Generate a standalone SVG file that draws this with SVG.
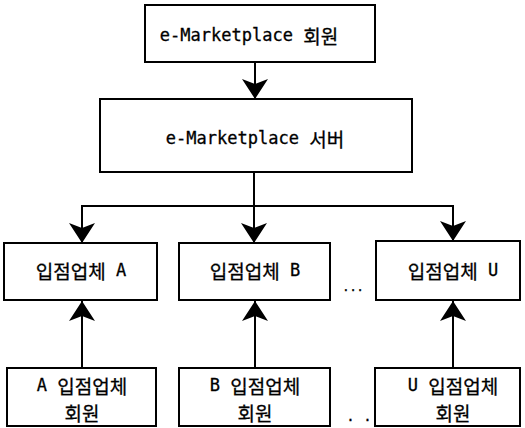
<svg xmlns="http://www.w3.org/2000/svg" width="525" height="428" viewBox="0 0 525 428">
<style>
.box{fill:#fff;stroke:#000;stroke-width:2}
.t{font-family:"DejaVu Sans Mono","Noto Sans CJK KR",monospace;font-size:17px;fill:#000;stroke:#000;stroke-width:0.3;text-anchor:middle;dominant-baseline:central}
.k{font-family:"Noto Sans CJK KR",sans-serif;font-size:19px}
.c{stroke:#000;stroke-width:2;fill:none}
</style>
<defs>
<marker id="ah" markerUnits="userSpaceOnUse" markerWidth="24" markerHeight="28" refX="20" refY="13" orient="auto">
<path d="M0,0 L20,13 L0,26 L5,13 Z" fill="#000"/>
</marker>
</defs>
<rect width="525" height="428" fill="#fff"/>
<g id="connectors">
<line class="c" x1="255" y1="62" x2="255" y2="99" marker-end="url(#ah)"/>
<line class="c" x1="254" y1="172" x2="254" y2="206"/>
<line class="c" x1="81" y1="206" x2="454" y2="206"/>
<line class="c" x1="82" y1="205" x2="82" y2="243" marker-end="url(#ah)"/>
<line class="c" x1="254" y1="206" x2="254" y2="243" marker-end="url(#ah)"/>
<line class="c" x1="453" y1="205" x2="453" y2="241" marker-end="url(#ah)"/>
<line class="c" x1="82" y1="368" x2="82" y2="301" marker-end="url(#ah)"/>
<line class="c" x1="255" y1="368" x2="255" y2="301" marker-end="url(#ah)"/>
<line class="c" x1="453" y1="368" x2="453" y2="301" marker-end="url(#ah)"/>
</g>
<g id="n1"><rect class="box" x="145" y="5" width="230" height="57"/><text class="t" x="249" y="35">e-Marketplace <tspan class="k">회원</tspan></text></g>
<g id="n2"><rect class="box" x="100" y="99" width="312" height="73"/><text class="t" x="255" y="138">e-Marketplace <tspan class="k">서버</tspan></text></g>
<g id="nA"><rect class="box" x="4" y="243" width="153" height="57"/><text class="t" x="81" y="270"><tspan class="k">입점업체</tspan> A</text></g>
<g id="nB"><rect class="box" x="179" y="243" width="151" height="57"/><text class="t" x="255" y="270"><tspan class="k">입점업체</tspan> B</text></g>
<g id="nU"><rect class="box" x="376" y="241" width="144" height="59"/><text class="t" x="453" y="270"><tspan class="k">입점업체</tspan> U</text></g>
<text class="t" x="353" y="287" style="font-size:12px">...</text>
<g id="mA"><rect class="box" x="7" y="368" width="149" height="58"/><text class="t" x="82" y="385">A <tspan class="k">입점업체</tspan></text><text class="t k" x="82" y="412">회원</text></g>
<g id="mB"><rect class="box" x="179" y="368" width="151" height="58"/><text class="t" x="255" y="385">B <tspan class="k">입점업체</tspan></text><text class="t k" x="255" y="412">회원</text></g>
<g id="mU"><rect class="box" x="375" y="368" width="145" height="58"/><text class="t" x="453" y="385">U <tspan class="k">입점업체</tspan></text><text class="t k" x="453" y="412">회원</text></g>
<text class="t" x="359" y="416" style="font-size:14px">. .</text>
</svg>
